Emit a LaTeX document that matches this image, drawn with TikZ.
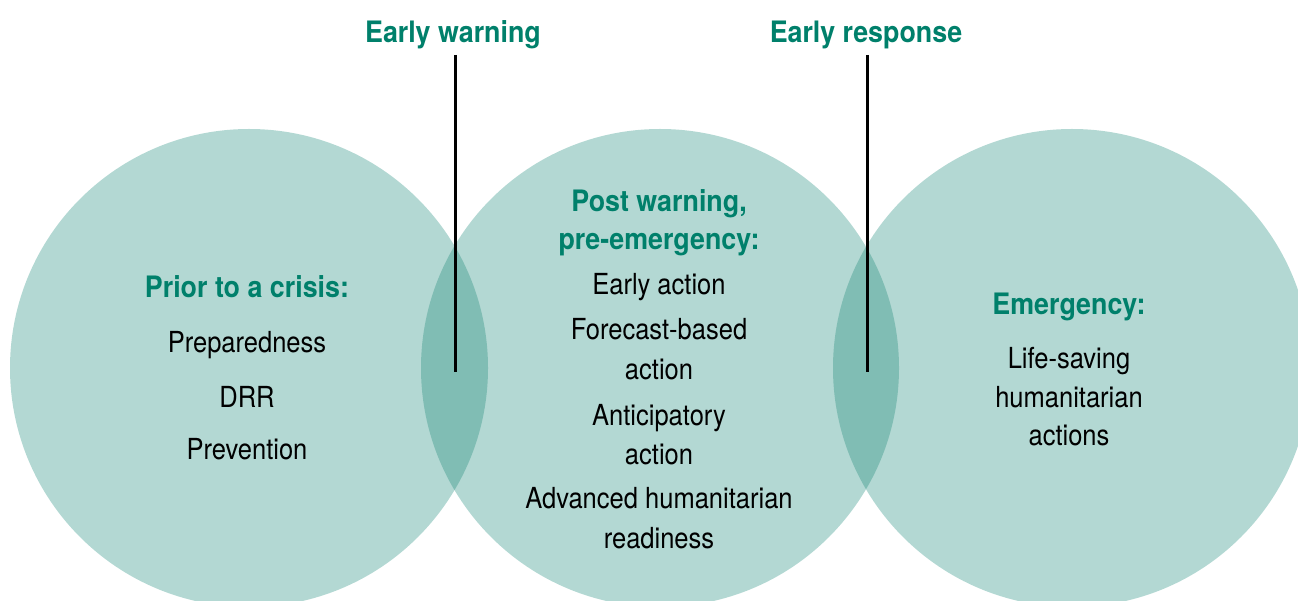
\documentclass[tikz,border=0pt]{standalone}
\usepackage{fontspec}
\newfontfamily\regfont[FakeStretch=0.88]{TeX Gyre Heros}
\newfontfamily\hdfont[FakeStretch=0.91]{TeX Gyre Heros}
\definecolor{circfill}{HTML}{B3D8D3}
\definecolor{lensfill}{HTML}{80BDB4}
\definecolor{headcol}{HTML}{00806B}
\begin{document}
\begin{tikzpicture}[x=1pt,y=-1pt,
  body/.style={anchor=base,inner sep=0pt,font=\regfont\fontsize{29}{34}\selectfont,text=black},
  head/.style={anchor=base,inner sep=0pt,font=\hdfont\bfseries\fontsize{29.5}{35}\selectfont,text=headcol},
  marker/.style={line width=3pt,black}]
\useasboundingbox (0,0) rectangle (1298,601);
\begin{scope}
\clip (0,0) rectangle (1298,601);
\fill[circfill] (249,368) circle[radius=239];
\fill[circfill] (660,368) circle[radius=239];
\fill[circfill] (1072,368) circle[radius=239];
\begin{scope}
\clip (249,368) circle[radius=239];
\fill[lensfill] (660,368) circle[radius=239];
\end{scope}
\begin{scope}
\clip (660,368) circle[radius=239];
\fill[lensfill] (1072,368) circle[radius=239];
\end{scope}
\end{scope}
% headings
\node[head] (ew) at (453,43) {Early warning};
\node[head] (er) at (866,43) {Early response};
\coordinate (ewtop) at (455,55);
\coordinate (ewbot) at (455,372);
\coordinate (ertop) at (867,55);
\coordinate (erbot) at (867,372);
\draw[marker] (ewtop) -- (ewbot);
\draw[marker] (ertop) -- (erbot);
% left
\node[head] (lh) at (247,298) {Prior to a crisis:};
\node[body] (l1) at (247,353) {Preparedness};
\node[body] (l2) at (247,407) {DRR};
\node[body] (l3) at (247,459) {Prevention};
% middle
\node[head] (mh1) at (659,212) {Post warning,};
\node[head] (mh2) at (659,250) {pre-emergency:};
\node[body] (m1) at (659,295) {Early action};
\node[body] (m2) at (659,340) {Forecast-based};
\node[body] (m3) at (659,380) {action};
\node[body] (m4) at (659,425) {Anticipatory};
\node[body] (m5) at (659,464) {action};
\node[body] (m6) at (659,508) {Advanced humanitarian};
\node[body] (m7) at (659,548) {readiness};
% right
\node[head] (rh) at (1069,315) {Emergency:};
\node[body] (r1) at (1069,368) {Life-saving};
\node[body] (r2) at (1069,407) {humanitarian};
\node[body] (r3) at (1069,445) {actions};
\end{tikzpicture}
\end{document}
